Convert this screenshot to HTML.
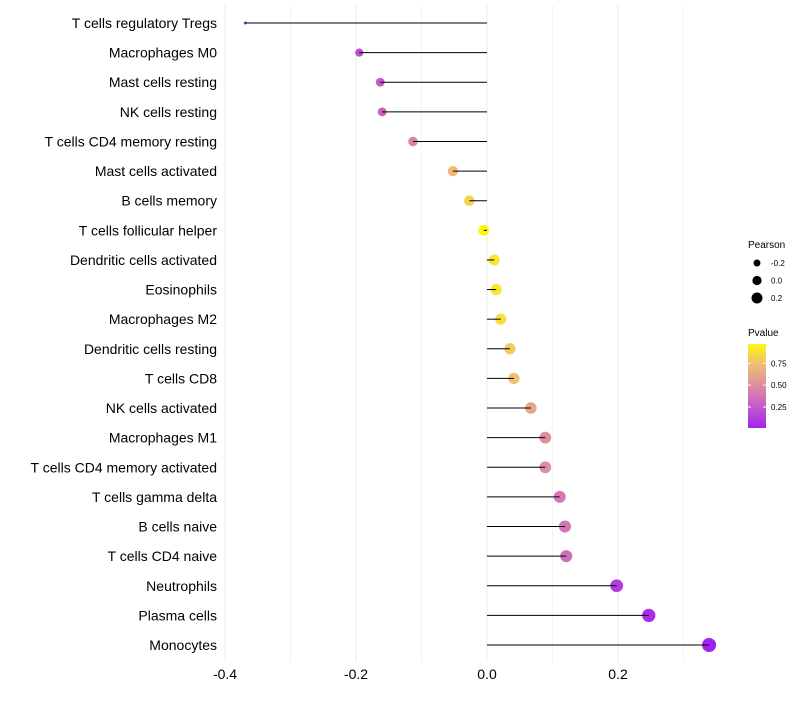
<!DOCTYPE html>
<html><head><meta charset="utf-8"><style>
body{margin:0;background:#fff;font-family:"Liberation Sans",sans-serif;}
svg text{font-family:"Liberation Sans",sans-serif;}
</style></head><body>
<svg id="chart" width="800" height="700"></svg>
<script>
const categories=["T cells regulatory  Tregs","Macrophages M0","Mast cells resting","NK cells resting","T cells CD4 memory resting","Mast cells activated","B cells memory","T cells follicular helper","Dendritic cells activated","Eosinophils","Macrophages M2","Dendritic cells resting","T cells CD8","NK cells activated","Macrophages M1","T cells CD4 memory activated","T cells gamma delta","B cells naive","T cells CD4 naive","Neutrophils","Plasma cells","Monocytes"];
const pearson=[-0.369,-0.195,-0.163,-0.160,-0.113,-0.052,-0.027,-0.005,0.011,0.014,0.021,0.035,0.041,0.067,0.089,0.089,0.111,0.119,0.121,0.198,0.247,0.339];
const pvalue=[0.04,0.2,0.25,0.28,0.45,0.72,0.82,0.97,0.9,0.9,0.88,0.8,0.75,0.62,0.5,0.5,0.4,0.38,0.36,0.12,0.06,0.01];
const xTicks=[-0.4,-0.2,0.0,0.2];
const xTickLabels=["-0.4","-0.2","0.0","0.2"];
const xMinor=[-0.3,-0.1,0.1,0.3];
const sizeLegend=[-0.2,0.0,0.2];
const pLegend=[0.25,0.5,0.75];

const NS="http://www.w3.org/2000/svg";
const svg=document.getElementById('chart');
function mk(t,a,p){const e=document.createElementNS(NS,t);for(const k in a)e.setAttribute(k,a[k]);(p||svg).appendChild(e);return e;}
const x=v=>487+v*655;
const y=i=>23+i*(622/21);
const r=v=>1.3+6.8*Math.sqrt(Math.max(0,v+0.37));
const stops=[[0,[160,32,240]],[0.25,[196,90,200]],[0.5,[221,143,160]],[0.75,[240,192,112]],[1,[255,255,0]]];
function col(p){for(let i=1;i<stops.length;i++){if(p<=stops[i][0]){const a=stops[i-1],b=stops[i];const t=(p-a[0])/(b[0]-a[0]);return 'rgb('+a[1].map((c,j)=>Math.round(c+(b[1][j]-c)*t)).join(',')+')';}}return 'rgb(255,255,0)';}

xMinor.concat(xTicks).forEach(v=>{const g=mk('line',{x1:x(v),x2:x(v),y1:5,y2:662,stroke:'#ebebeb','stroke-width':xTicks.includes(v)?1:0.6});
});
xTicks.forEach((v,i)=>{const t=mk('text',{x:x(v),y:679,'text-anchor':'middle','font-size':14,fill:'#000'});t.textContent=xTickLabels[i];
});
categories.forEach((c,i)=>{
 const t=mk('text',{x:217,y:y(i)+5,'text-anchor':'end','font-size':14,fill:'#000'});t.textContent=c;
 
 const d=mk('circle',{cx:x(pearson[i]),cy:y(i),r:r(pearson[i]),fill:col(pvalue[i])});
 
 const l=mk('line',{x1:x(0),x2:x(pearson[i]),y1:y(i),y2:y(i),stroke:'#000','stroke-width':1});
 
});
let t=mk('text',{x:748,y:248,'font-size':10});t.textContent='Pearson';

sizeLegend.forEach((v,i)=>{const cy=263+i*17.5;
 const c=mk('circle',{cx:757,cy:cy,r:r(v)*0.85,fill:'#000'});
 const tt=mk('text',{x:771,y:cy+3,'font-size':8});tt.textContent=v.toFixed(1);});
t=mk('text',{x:748,y:336,'font-size':10});t.textContent='Pvalue';

const defs=mk('defs',{});const lg=mk('linearGradient',{id:'pg',x1:0,y1:1,x2:0,y2:0},defs);
for(let k=0;k<=10;k++){const p=0.01+k*0.096;mk('stop',{offset:k/10,'stop-color':col(p)},lg);}
const bar=mk('rect',{x:748,y:344,width:18,height:84,fill:'url(#pg)'});
const py=p=>428-(p-0.01)/0.96*84;
pLegend.forEach(p=>{
 mk('line',{x1:748,x2:751,y1:py(p),y2:py(p),stroke:'#fff'});mk('line',{x1:763,x2:766,y1:py(p),y2:py(p),stroke:'#fff'});
 const tt=mk('text',{x:771,y:py(p)+3,'font-size':8});tt.textContent=p.toFixed(2);});
</script>
</body></html>
